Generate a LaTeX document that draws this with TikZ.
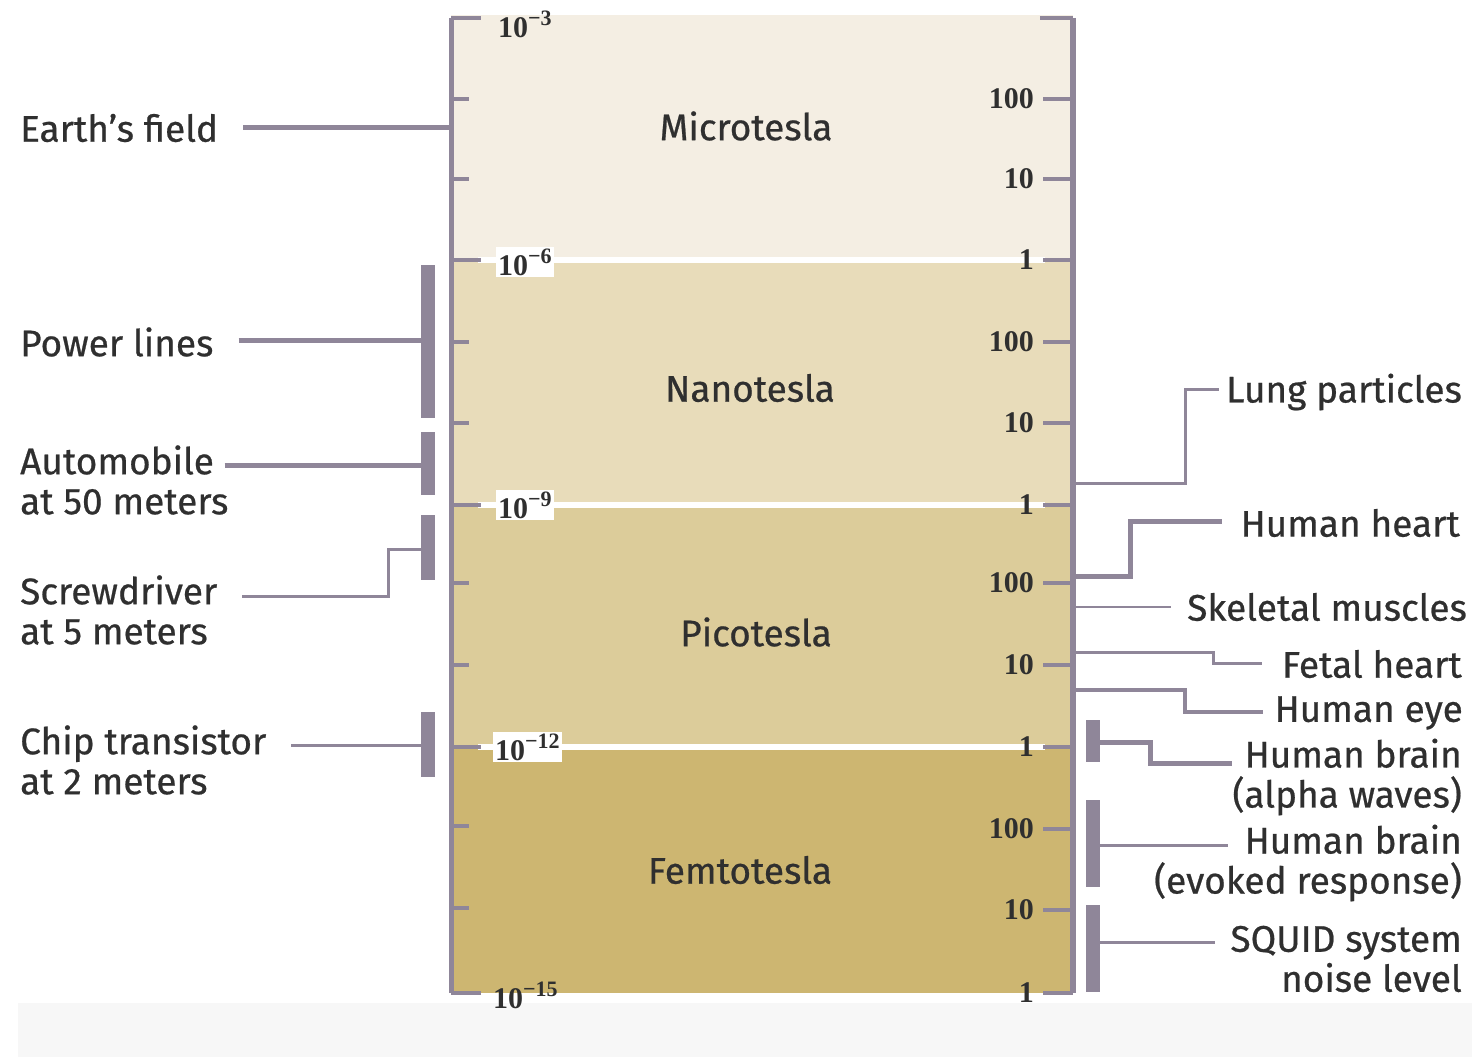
\documentclass[tikz,border=0pt]{standalone}
\usepackage{fontspec}
\setmainfont{Fira Sans}[FakeBold=0.6]
\newfontfamily\numfont{Liberation Serif}
\definecolor{txt}{HTML}{2F2F2F}
\definecolor{axc}{HTML}{8F8699}
\definecolor{bMicro}{HTML}{F4EEE3}
\definecolor{bNano}{HTML}{E8DCBA}
\definecolor{bPico}{HTML}{DCCC9A}
\definecolor{bFemto}{HTML}{CDB671}
\definecolor{bottomgrey}{HTML}{F7F7F7}
\tikzset{
  lbl/.style={font=\fontsize{37}{40}\selectfont, text=txt, inner sep=0pt},
  band/.style={font=\fontsize{37}{40}\selectfont, text=txt, inner sep=0pt},
  conn/.style={draw=axc, line width=3pt},
  connthick/.style={draw=axc, line width=5pt},
  barst/.style={draw=axc, line width=14pt},
  axisline/.style={draw=axc, line width=5pt},
  tickmark/.style={draw=axc, line width=4pt},
  numl/.style={font=\numfont\bfseries\fontsize{30}{30}\selectfont, text=txt, inner sep=0pt},
  sepline/.style={draw=white, line width=6pt}
}
\newcommand{\expo}[1]{10\raisebox{12pt}{\fontsize{22}{22}\selectfont −#1}}
\begin{document}
\begin{tikzpicture}[x=1pt,y=-1pt]
\useasboundingbox (0,0) rectangle (1472,1057);
\fill[white] (0,0) rectangle (1472,1057);
\fill[bottomgrey] (18,1003) rectangle (1472,1057);
% bands
\fill[bMicro] (451,15) rectangle (1073,260);
\fill[bNano] (451,260) rectangle (1073,505);
\fill[bPico] (451,505) rectangle (1073,747);
\fill[bFemto] (451,747) rectangle (1073,993);
\draw[sepline] (478,260) -- (1045,260);
\draw[sepline] (478,505) -- (1045,505);
\draw[sepline] (478,747) -- (1045,747);
% axes
\coordinate (LT) at (451,18); \coordinate (LB) at (451,993);
\coordinate (RT) at (1073,18); \coordinate (RB) at (1073,993);
\draw[axisline] (LT) -- (LB);
\draw[axisline, line width=6pt] (RT) -- (RB);
% left ticks
\foreach \y in {18,260,505,747,993} \draw[tickmark] (451,\y) -- (481,\y);
\foreach \y in {99,179,342,423,583,665,826,908} \draw[tickmark, line width=3.5pt] (451,\y) -- (469,\y);
% right ticks
\draw[tickmark] (1040,18) -- (1073,18);
\foreach \y in {99,179,260,342,423,505,583,665,747,829,910,993} \draw[tickmark] (1043,\y) -- (1073,\y);
% left exponent labels
\node[numl, anchor=west] (e3) at (498,24) {\expo{3}};
\node[numl, anchor=west, fill=white, inner sep=2pt] (e6) at (496,262) {\expo{6}};
\node[numl, anchor=west, fill=white, inner sep=2pt] (e9) at (496,505) {\expo{9}};
\node[numl, anchor=west, fill=white, inner sep=2pt] (e12) at (493,747) {\expo{12}};
\node[numl, anchor=west] (e15) at (493,995) {\expo{15}};
% right numeric labels
\foreach \y/\t [count=\i] in {99/100,179/10,260/1,342/100,423/10,505/1,583/100,665/10,747/1,829/100,910/10,993/1}
  \node[numl, anchor=east] (r\i) at (1034,\y) {\t};
% band titles
\node[band] (micro) at (746,126) {Microtesla};
\node[band] (nano) at (750,388) {Nanotesla};
\node[band] (pico) at (756,632) {Picotesla};
\node[band] (femto) at (740,870) {Femtotesla};
% left labels
\node[lbl, anchor=west] (earth) at (20,128) {Earth's field};
\node[lbl, anchor=west] (power) at (20,342) {Power lines};
\node[lbl, anchor=west, align=left] (auto) at (20,480) {Automobile\\at 50 meters};
\node[lbl, anchor=west, align=left] (screw) at (20,610) {Screwdriver\\at 5 meters};
\node[lbl, anchor=west, align=left] (chip) at (20,760) {Chip transistor\\at 2 meters};
% left bars
\coordinate (pwA) at (428,265); \coordinate (pwB) at (428,418);
\coordinate (auA) at (428,432); \coordinate (auB) at (428,495);
\coordinate (scA) at (428,515); \coordinate (scB) at (428,580);
\coordinate (chA) at (428,712); \coordinate (chB) at (428,777);
\draw[barst] (pwA) -- (pwB);
\draw[barst] (auA) -- (auB);
\draw[barst] (scA) -- (scB);
\draw[barst] (chA) -- (chB);
% left connectors
\coordinate (eaE) at (451,127);
\coordinate (pwE) at (428,340);
\coordinate (auE) at (428,465);
\coordinate (scK) at (388,596);
\coordinate (scE) at (428,549);
\coordinate (chE) at (428,745);
\draw[connthick, shorten <=25pt] (earth.east |- eaE) -- (eaE);
\draw[connthick, shorten <=25pt] (power.east |- pwE) -- (pwE);
\draw[connthick, shorten <=-4pt] (auto.east |- auE) -- (auE);
\draw[conn, shorten <=25pt] (screw.east |- scK) -- (scK) |- (scE);
\draw[conn, shorten <=25pt] (chip.east |- chE) -- (chE);
% right labels
\node[lbl, anchor=east] (lung) at (1462,392) {Lung particles};
\node[lbl, anchor=east] (heart) at (1460,523) {Human heart};
\node[lbl, anchor=east] (skel) at (1467,607) {Skeletal muscles};
\node[lbl, anchor=east] (fetal) at (1462,664) {Fetal heart};
\node[lbl, anchor=east] (eye) at (1463,713) {Human eye};
\node[lbl, anchor=east, align=right] (alpha) at (1462,777) {Human brain\\(alpha waves)};
\node[lbl, anchor=east, align=right] (evoked) at (1462,863) {Human brain\\(evoked response)};
\node[lbl, anchor=east, align=right] (squid) at (1462,959) {SQUID system\\noise level};
% right bars
\coordinate (alA) at (1093,720); \coordinate (alB) at (1093,762);
\coordinate (evA) at (1093,800); \coordinate (evB) at (1093,887);
\coordinate (sqA) at (1093,905); \coordinate (sqB) at (1093,992);
\draw[barst] (alA) -- (alB);
\draw[barst] (evA) -- (evB);
\draw[barst] (sqA) -- (sqB);
% right connectors
\coordinate (luS) at (1073,483); \coordinate (luK) at (1185,389);
\coordinate (heS) at (1073,576); \coordinate (heK) at (1130,521);
\coordinate (skS) at (1073,607);
\coordinate (feS) at (1073,652); \coordinate (feK) at (1213,663);
\coordinate (eyS) at (1073,690); \coordinate (eyK) at (1185,712);
\coordinate (alS) at (1093,742); \coordinate (alK) at (1150,763);
\coordinate (evS) at (1093,845); \coordinate (evE) at (1228,845);
\coordinate (sqS) at (1093,942);
\draw[conn, shorten >=7pt] (luS) -| (luK) -- (luK -| lung.west);
\draw[connthick, shorten >=18pt] (heS) -| (heK) -- (heK -| heart.west);
\draw[conn, line width=2.5pt, shorten >=16pt] (skS) -- (skS -| skel.west);
\draw[conn, shorten >=20pt] (feS) -| (feK) -- (feK -| fetal.west);
\draw[conn, line width=4pt, shorten >=11pt] (eyS) -| (eyK) -- (eyK -| eye.west);
\draw[connthick] (alS) -| (alK) -- (alK -| alpha.west);
\draw[conn] (evS) -- (evE);
\draw[conn, shorten >=15pt] (sqS) -- (sqS -| squid.west);
\end{tikzpicture}
\end{document}
